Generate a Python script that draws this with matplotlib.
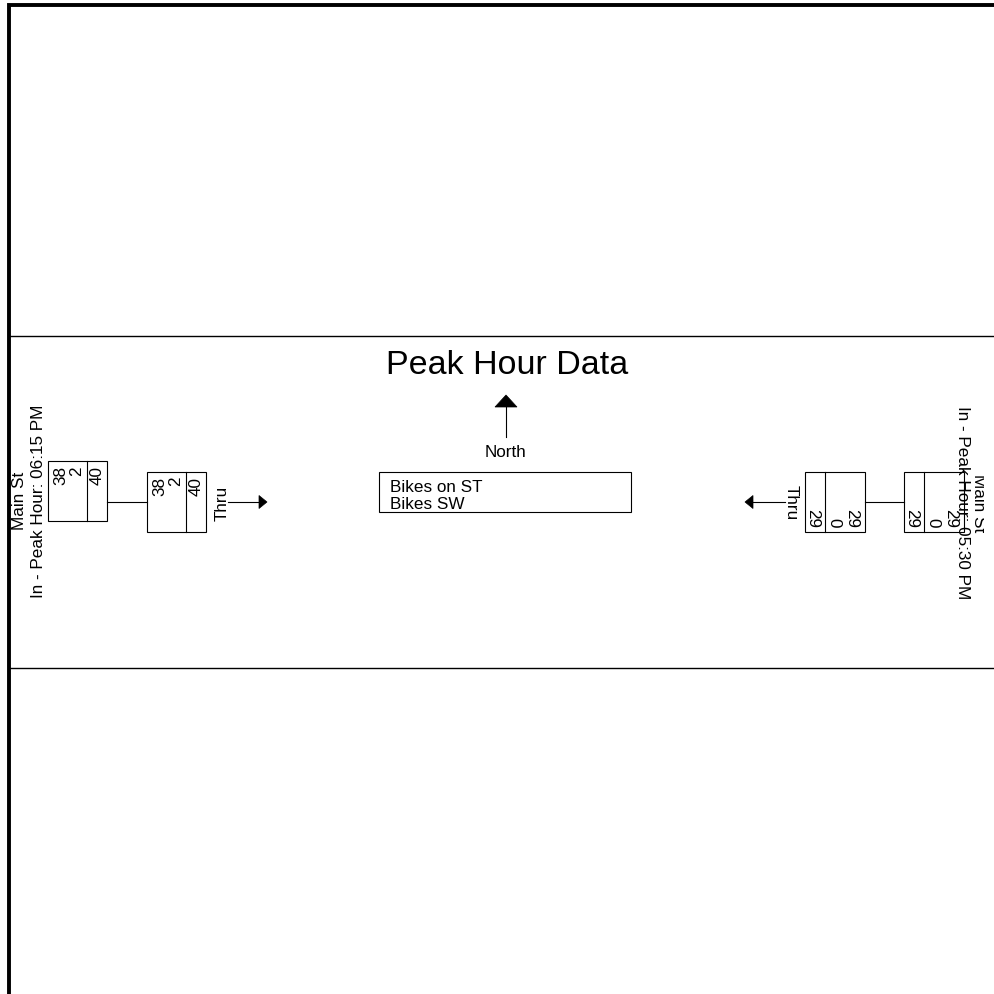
import matplotlib
matplotlib.use("Agg")
import matplotlib.pyplot as plt
from matplotlib.patches import Rectangle, Polygon
from matplotlib.transforms import Bbox, TransformedBbox

# ---- data ----
title = "Peak Hour Data"
street_names = ["Main St", "Main St"]
peak_labels = ["In - Peak Hour: 06:15 PM", "In - Peak Hour: 05:30 PM"]
west_in_values = [38, 2]
west_in_total = 40
west_out_values = [38, 2]
west_out_total = 40
east_in_values = [29, 0]
east_in_total = 29
east_out_values = [29, 0]
east_out_total = 29
movements = ["Thru", "Thru"]
legend_lines = ["Bikes on ST", "Bikes SW"]
north_label = "North"

# ---- layout ----
W, H = 994, 995
FONT = "Liberation Sans"
FS = 12.3
LW = 0.8

plt.rcParams['font.family'] = [FONT, 'DejaVu Sans']

fig = plt.figure(figsize=(W / 100, H / 100), dpi=100)
ax = fig.add_axes([0, 0, 1, 1])
ax.set_xlim(0, W)
ax.set_ylim(H, 0)
ax.axis('off')

# outer frame (left + top thick lines)
ax.plot([8.9, 8.9, W + 5], [H + 5, 5.6, 5.6], color='black', lw=2.8,
        solid_joinstyle='miter')
# horizontal band lines
for yy in (337, 669):
    ax.plot([10, 993], [yy, yy], color='black', lw=1.0)


def box(x0, y0, w, h, div):
    ax.add_patch(Rectangle((x0, y0), w, h, fill=False, ec='black', lw=LW))
    ax.plot([x0 + div, x0 + div], [y0, y0 + h], color='black', lw=LW)


def west_box(x0, y0, values, total):
    w, h = 59, 60
    box(x0, y0, w, h, 39)
    for off, v in zip((17, 33), values):
        ax.text(x0 + off, y0 + 4, str(v), rotation=90, rotation_mode='anchor',
                ha='right', va='baseline', fontsize=FS)
    ax.text(x0 + 54, y0 + 4, str(total), rotation=90, rotation_mode='anchor',
            ha='right', va='baseline', fontsize=FS)
    return x0, y0, w, h


def east_box(x0, y0, values, total):
    w, h = 60, 60
    box(x0, y0, w, h, 20)
    for off, v in zip((42, 24), values):
        ax.text(x0 + off, y0 + h - 5, str(v), rotation=270, rotation_mode='anchor',
                ha='right', va='baseline', fontsize=FS)
    ax.text(x0 + 3.5, y0 + h - 5, str(total), rotation=270, rotation_mode='anchor',
            ha='right', va='baseline', fontsize=FS)
    return x0, y0, w, h


# ---- west approach ----
b1 = west_box(48, 462, west_in_values, west_in_total)
b2 = west_box(147, 473, west_out_values, west_out_total)
ax.plot([b1[0] + b1[2], b2[0]], [503, 503], color='black', lw=LW)
ax.text(227, 503, movements[0], rotation=90, rotation_mode='anchor',
        ha='center', va='baseline', fontsize=FS)
ax.plot([228, 260], [503, 503], color='black', lw=LW)
ax.add_patch(Polygon([(259, 496.5), (267, 503), (259, 509.5)], closed=True,
                     fc='black', ec='black', lw=0.5))
ax.text(24, 501, street_names[0], rotation=90, rotation_mode='anchor',
        ha='center', va='baseline', fontsize=FS)
ax.text(43, 501, peak_labels[0], rotation=90, rotation_mode='anchor',
        ha='center', va='baseline', fontsize=FS)

# ---- east approach ----
bA = east_box(805, 473, east_out_values, east_out_total)
bB = east_box(904, 473, east_in_values, east_in_total)
ax.plot([bA[0] + bA[2], bB[0]], [503, 503], color='black', lw=LW)
ax.text(787, 503, movements[1], rotation=270, rotation_mode='anchor',
        ha='center', va='baseline', fontsize=FS)
ax.plot([785, 752], [503, 503], color='black', lw=LW)
ax.add_patch(Polygon([(753, 496.5), (745, 503), (753, 509.5)], closed=True,
                     fc='black', ec='black', lw=0.5))
ax.text(958, 503, peak_labels[1], rotation=270, rotation_mode='anchor',
        ha='center', va='baseline', fontsize=FS)
t = ax.text(974, 503, street_names[1], rotation=270, rotation_mode='anchor',
            ha='center', va='baseline', fontsize=FS)
t.set_clip_box(TransformedBbox(Bbox([[0, 0], [983.5, H]]), ax.transData))
t.set_clip_on(True)

# ---- title, north arrow, legend ----
ax.text(507, 374, title, ha='center', va='baseline', fontsize=24.5)
ax.add_patch(Polygon([(506, 396), (495, 408), (517, 408)], closed=True,
                     fc='black', ec='black', lw=0.5))
ax.plot([506, 506], [408, 438], color='black', lw=LW)
ax.text(506, 457, north_label, ha='center', va='baseline', fontsize=FS)

ax.add_patch(Rectangle((379, 473), 252, 40, fill=False, ec='black', lw=LW))
for yy, line in zip((492, 509), legend_lines):
    ax.text(390, yy, line, ha='left', va='baseline', fontsize=FS)

fig.savefig("out.png", dpi=100, facecolor='white')
